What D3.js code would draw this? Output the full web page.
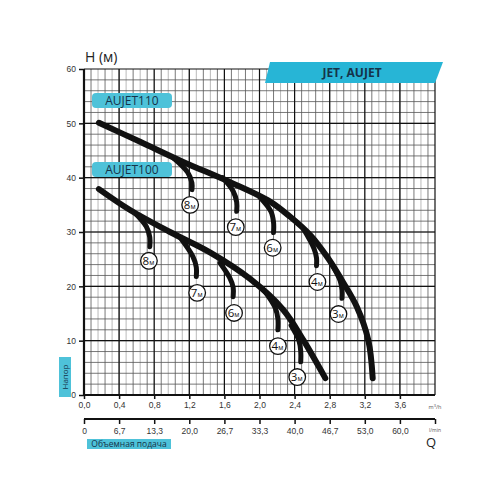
<!DOCTYPE html>
<html>
<head>
<meta charset="utf-8">
<script src="https://cdn.jsdelivr.net/npm/d3@7"></script>
<style>
  body { margin: 0; background: #fff; }
  svg { font-family: "Open Sans", "DejaVu Sans", sans-serif; }
</style>
</head>
<body>
<svg width="500" height="500"></svg>
<script>
// ось Q (м3/ч) и подписи
var qTicks = [0, 0.4, 0.8, 1.2, 1.6, 2.0, 2.4, 2.8, 3.2, 3.6];
var qLabels = ["0,0", "0,4", "0,8", "1,2", "1,6", "2,0", "2,4", "2,8", "3,2", "3,6"];
var lminLabels = ["0", "6,7", "13,3", "20,0", "26,7", "33,3", "40,0", "46,7", "53,0", "60,0"];
var hTicks = [0, 10, 20, 30, 40, 50, 60];

// основные кривые [Q, H]
var curve110 = [[0.17, 50.1], [0.64, 46.6], [1.13, 42.9], [1.66, 39.2], [2.12, 35.6],
  [2.35, 32.8], [2.58, 29.4], [2.78, 25.2], [2.95, 20.8], [3.11, 16.2], [3.24, 10.1], [3.29, 3.1]];
var curve100 = [[0.17, 37.9], [0.52, 34.1], [0.98, 30.0], [1.44, 26.2], [1.89, 21.4],
  [2.27, 15.7], [2.50, 10.1], [2.75, 3.1]];

// ответвления по глубине всасывания
var branches110 = [
  [[1.02, 43.6], [1.18, 41.0], [1.23, 39.0], [1.23, 37.8]],
  [[1.58, 40.0], [1.70, 37.5], [1.74, 35.5], [1.74, 33.8]],
  [[2.00, 36.5], [2.13, 33.8], [2.16, 31.8], [2.16, 29.9]],
  [[2.50, 30.6], [2.62, 27.0], [2.65, 25.2], [2.65, 23.8]],
  [[2.82, 24.2], [2.92, 21.0], [2.94, 19.3], [2.94, 17.8]]
];
var branches100 = [
  [[0.58, 33.5], [0.71, 31.0], [0.75, 29.0], [0.75, 27.3]],
  [[1.10, 28.9], [1.24, 25.5], [1.28, 23.5], [1.28, 21.8]],
  [[1.55, 24.3], [1.66, 21.6], [1.70, 19.8], [1.70, 18.1]],
  [[2.05, 19.3], [2.18, 16.0], [2.21, 14.0], [2.21, 12.0]],
  [[2.36, 12.8], [2.45, 10.0], [2.47, 8.0], [2.47, 6.1]]
];

// кружки с глубиной
var depthNames = ["8", "7", "6", "4", "3"];
var labels110 = [[1.21, 35.0], [1.73, 30.9], [2.15, 27.1], [2.66, 20.8], [2.90, 14.9]];
var labels100 = [[0.74, 24.7], [1.29, 18.8], [1.71, 15.1], [2.21, 9.0], [2.43, 3.3]];

var svg = d3.select("svg");
var blue = "#4ec2d9";
var navy = "#15334a";

var x = d3.scaleLinear().domain([0, 4]).range([84, 435]);
var y = d3.scaleLinear().domain([0, 60]).range([395, 69]);

// сетка
var grid = svg.append("g");
grid.selectAll(".vminor")
  .data(d3.range(1, 50))
  .enter().append("line")
  .attr("x1", function (i) { return x(i * 0.08); })
  .attr("x2", function (i) { return x(i * 0.08); })
  .attr("y1", y(60)).attr("y2", y(0))
  .attr("stroke", function (i) { return i % 2 ? "#555" : "#a8a8a8"; })
  .attr("stroke-width", 0.8);
grid.selectAll(".hminor")
  .data(d3.range(1, 30))
  .enter().append("line")
  .attr("x1", x(0)).attr("x2", x(4))
  .attr("y1", function (i) { return y(i * 2); })
  .attr("y2", function (i) { return y(i * 2); })
  .attr("stroke", "#555")
  .attr("stroke-width", 0.8);
grid.selectAll(".vmajor")
  .data(qTicks.concat([4]))
  .enter().append("line")
  .attr("x1", function (d) { return x(d); })
  .attr("x2", function (d) { return x(d); })
  .attr("y1", y(60)).attr("y2", y(0))
  .attr("stroke", "#111")
  .attr("stroke-width", 1.2);
grid.selectAll(".hmajor")
  .data(hTicks)
  .enter().append("line")
  .attr("x1", x(0)).attr("x2", x(4))
  .attr("y1", function (d) { return y(d); })
  .attr("y2", function (d) { return y(d); })
  .attr("stroke", "#111")
  .attr("stroke-width", 1.2);

// оси
var yAxis = svg.append("g")
  .attr("transform", "translate(" + x(0) + ",0)")
  .call(d3.axisLeft(y).tickValues(hTicks).tickSize(5).tickPadding(3));
var xAxis = svg.append("g")
  .attr("transform", "translate(0," + y(0) + ")")
  .call(d3.axisBottom(x).tickValues(qTicks).tickSize(4).tickPadding(3)
    .tickFormat(function (d, i) { return qLabels[i]; }));
var x2 = svg.append("g")
  .attr("transform", "translate(0,419)")
  .call(d3.axisBottom(x).tickValues(qTicks.concat([4])).tickSize(5).tickPadding(4)
    .tickFormat(function (d, i) { return i < lminLabels.length ? lminLabels[i] : ""; }));
[yAxis, xAxis, x2].forEach(function (g) {
  g.select(".domain").attr("stroke", "#111").attr("stroke-width", 2.2);
  g.selectAll(".tick line").attr("stroke", "#111").attr("stroke-width", 1.5);
  g.selectAll(".tick text").attr("fill", "#333").style("font-size", "8.5px");
});
x2.select(".domain").attr("d", "M" + x(0) + ",0H" + x(4));
yAxis.select(".domain").attr("d", "M0," + y(0) + "V" + y(60));
xAxis.select(".domain").attr("d", "M" + x(0) + ",0H" + x(4));

// единицы
var m3h = svg.append("text")
  .attr("x", x(4)).attr("y", 409)
  .attr("text-anchor", "middle")
  .attr("fill", "#555")
  .style("font-size", "5.5px");
m3h.append("tspan").text("m");
m3h.append("tspan").attr("dy", -2).style("font-size", "4px").text("3");
m3h.append("tspan").attr("dy", 2).text("/h");
svg.append("text")
  .attr("x", x(4)).attr("y", 432)
  .attr("text-anchor", "middle")
  .attr("fill", "#555")
  .style("font-size", "5px")
  .text("l/min");
svg.append("text")
  .attr("x", x(4) - 4).attr("y", 447)
  .attr("text-anchor", "middle")
  .attr("fill", "#222")
  .style("font-size", "13px")
  .text("Q");

svg.append("text")
  .attr("x", 85).attr("y", 62)
  .attr("fill", "#222")
  .style("font-size", "14px")
  .text("H (м)");

// подписи "Напор" и "Объемная подача"
svg.append("rect")
  .attr("x", 59).attr("y", 357).attr("width", 12).attr("height", 40)
  .attr("fill", blue);
svg.append("text")
  .attr("transform", "translate(68,377) rotate(-90)")
  .attr("text-anchor", "middle")
  .attr("fill", navy)
  .style("font-size", "8px")
  .text("Напор");
svg.append("rect")
  .attr("x", 87).attr("y", 439).attr("width", 84).attr("height", 10)
  .attr("fill", blue);
svg.append("text")
  .attr("x", 129).attr("y", 447)
  .attr("text-anchor", "middle")
  .attr("fill", navy)
  .style("font-size", "8.5px")
  .text("Объемная подача");

// заголовок
svg.append("path")
  .attr("d", "M270,62L443,62L435,83L265,83Z")
  .attr("fill", "#27b5d6");
svg.append("text")
  .attr("x", 352).attr("y", 76.5)
  .attr("text-anchor", "middle")
  .attr("fill", navy)
  .style("font-size", "12px")
  .style("font-weight", "bold")
  .text("JET,  AUJET");

// кривые
var line = d3.line()
  .x(function (d) { return x(d[0]); })
  .y(function (d) { return y(d[1]); })
  .curve(d3.curveCatmullRom.alpha(0.5));

var curves = svg.append("g")
  .attr("fill", "none")
  .attr("stroke", "#111")
  .attr("stroke-linecap", "round");
branches110.concat(branches100).forEach(function (b) {
  curves.append("path").attr("d", line(b)).attr("stroke-width", 5);
});
[curve110, curve100].forEach(function (c) {
  curves.append("path").attr("d", line(c)).attr("stroke-width", 6);
});

// кружки
var circ = svg.append("g");
labels110.concat(labels100).forEach(function (p, i) {
  var g = circ.append("g")
    .attr("transform", "translate(" + x(p[0]) + "," + y(p[1]) + ")");
  g.append("circle").attr("r", 8.3)
    .attr("fill", "#fff").attr("stroke", "#111").attr("stroke-width", 1.3);
  var t = g.append("text")
    .attr("x", -0.5).attr("y", 4)
    .attr("text-anchor", "middle")
    .attr("fill", "#111");
  t.append("tspan").style("font-size", "11.5px").text(depthNames[i % 5]);
  t.append("tspan").style("font-size", "7px").text("м");
});

// легенда
[["AUJET110", 92, 93], ["AUJET100", 92, 162]].forEach(function (d) {
  svg.append("rect")
    .attr("x", d[1]).attr("y", d[2]).attr("width", 80).attr("height", 15)
    .attr("rx", 4)
    .attr("fill", blue);
  svg.append("text")
    .attr("x", d[1] + 40).attr("y", d[2] + 12)
    .attr("text-anchor", "middle")
    .attr("fill", navy)
    .style("font-size", "12px")
    .text(d[0]);
});
</script>
</body>
</html>
